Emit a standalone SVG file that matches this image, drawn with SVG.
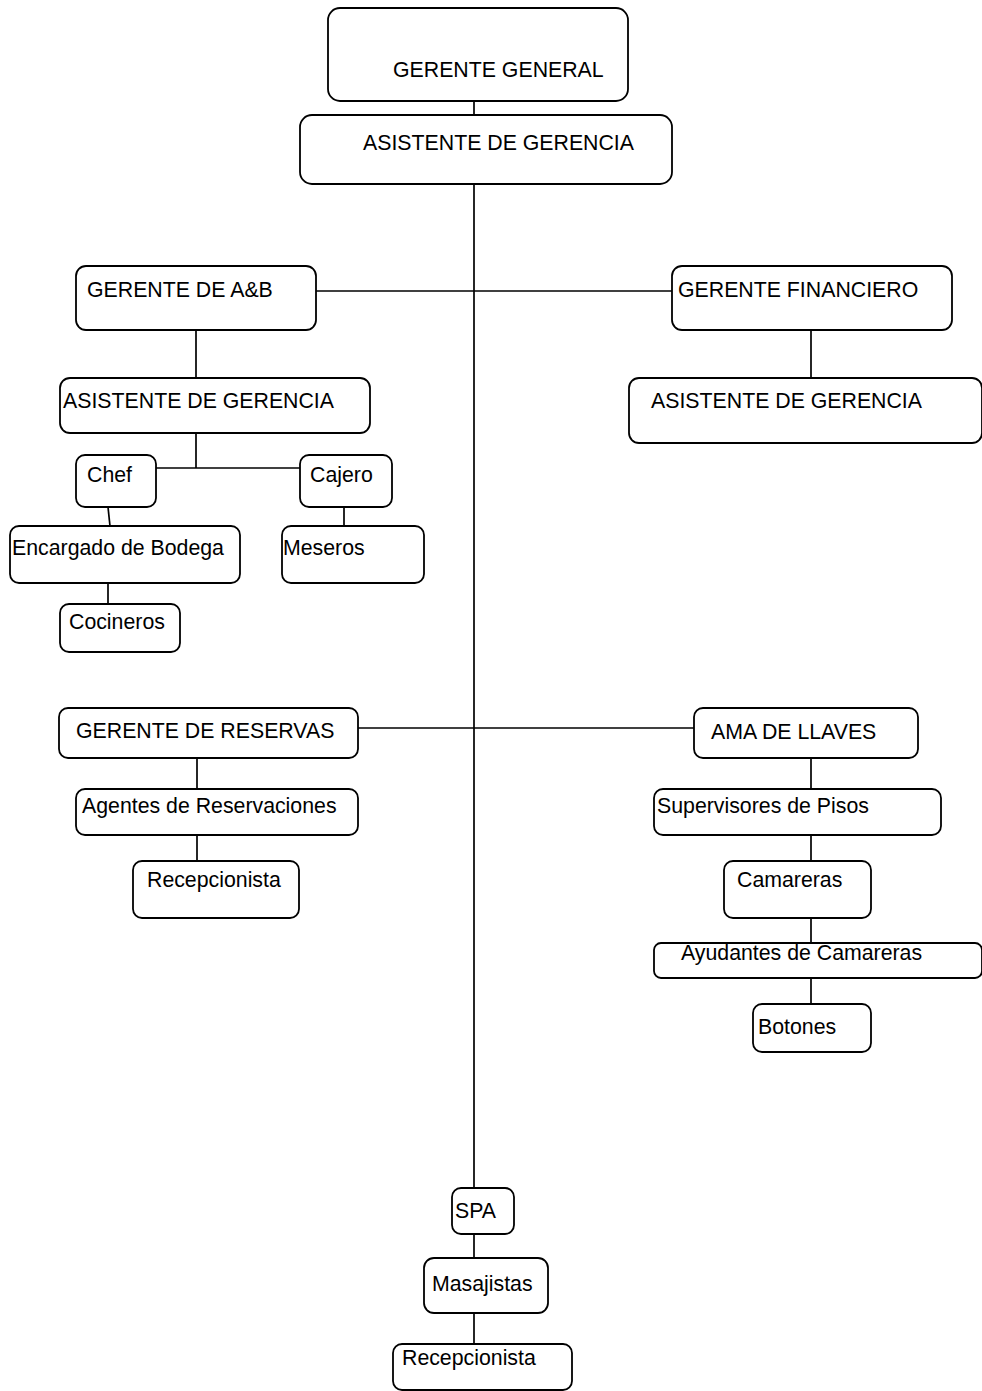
<svg xmlns="http://www.w3.org/2000/svg" width="982" height="1391" viewBox="0 0 982 1391">
<style>
.b{fill:#fff;stroke:#000;stroke-width:1.8}
.t{font-family:"Liberation Sans",Arial,sans-serif;font-size:21.3px;fill:#000}
.c line{stroke:#000;stroke-width:1.7}
</style>
<rect width="982" height="1391" fill="#fff"/>
<g class="c" id="connectors">
<line x1="474" y1="101" x2="474" y2="115"/>
<line x1="474" y1="184" x2="474" y2="1188"/>
<line x1="316" y1="291" x2="672" y2="291"/>
<line x1="358" y1="728" x2="694" y2="728"/>
<line x1="196" y1="330" x2="196" y2="378"/>
<line x1="196" y1="433" x2="196" y2="468"/>
<line x1="156" y1="468" x2="300" y2="468"/>
<line x1="108" y1="507" x2="110" y2="526"/>
<line x1="344" y1="507" x2="344" y2="526"/>
<line x1="108" y1="583" x2="108" y2="604"/>
<line x1="811" y1="330" x2="811" y2="378"/>
<line x1="197" y1="758" x2="197" y2="789"/>
<line x1="197" y1="835" x2="197" y2="861"/>
<line x1="811" y1="758" x2="811" y2="789"/>
<line x1="811" y1="835" x2="811" y2="861"/>
<line x1="811" y1="918" x2="811" y2="943"/>
<line x1="811" y1="978" x2="811" y2="1003"/>
<line x1="474" y1="1234" x2="474" y2="1258"/>
<line x1="474" y1="1313" x2="474" y2="1344"/>
</g>
<g id="gerente-general"><rect class="b" x="328" y="8" width="300" height="93" rx="12"/><text class="t" x="393" y="77">GERENTE GENERAL</text></g>
<g id="asistente-gerencia"><rect class="b" x="300" y="115" width="372" height="69" rx="12"/><text class="t" x="363" y="150">ASISTENTE DE GERENCIA</text></g>
<g id="gerente-ab"><rect class="b" x="76" y="266" width="240" height="64" rx="10"/><text class="t" x="87" y="297">GERENTE DE A&amp;B</text></g>
<g id="gerente-financiero"><rect class="b" x="672" y="266" width="280" height="64" rx="10"/><text class="t" x="678" y="297">GERENTE FINANCIERO</text></g>
<g id="asistente-ab"><rect class="b" x="60" y="378" width="310" height="55" rx="10"/><text class="t" x="63" y="408">ASISTENTE DE GERENCIA</text></g>
<g id="asistente-fin"><rect class="b" x="629" y="378" width="353" height="65" rx="10"/><text class="t" x="651" y="408">ASISTENTE DE GERENCIA</text></g>
<g id="chef"><rect class="b" x="76" y="455" width="80" height="52" rx="9"/><text class="t" x="87" y="482">Chef</text></g>
<g id="cajero"><rect class="b" x="300" y="455" width="92" height="52" rx="9"/><text class="t" x="310" y="482">Cajero</text></g>
<g id="encargado"><rect class="b" x="10" y="526" width="230" height="57" rx="9"/><text class="t" x="12" y="555">Encargado de Bodega</text></g>
<g id="meseros"><rect class="b" x="282" y="526" width="142" height="57" rx="9"/><text class="t" x="283" y="555">Meseros</text></g>
<g id="cocineros"><rect class="b" x="60" y="604" width="120" height="48" rx="9"/><text class="t" x="69" y="629">Cocineros</text></g>
<g id="gerente-reservas"><rect class="b" x="59" y="708" width="299" height="50" rx="9"/><text class="t" x="76" y="738">GERENTE DE RESERVAS</text></g>
<g id="ama-llaves"><rect class="b" x="694" y="708" width="224" height="50" rx="9"/><text class="t" x="711" y="739">AMA DE LLAVES</text></g>
<g id="agentes"><rect class="b" x="76" y="789" width="282" height="46" rx="9"/><text class="t" x="82" y="813">Agentes de Reservaciones</text></g>
<g id="supervisores"><rect class="b" x="654" y="789" width="287" height="46" rx="9"/><text class="t" x="657" y="813">Supervisores de Pisos</text></g>
<g id="recepcionista-res"><rect class="b" x="133" y="861" width="166" height="57" rx="9"/><text class="t" x="147" y="887">Recepcionista</text></g>
<g id="camareras"><rect class="b" x="724" y="861" width="147" height="57" rx="9"/><text class="t" x="737" y="887">Camareras</text></g>
<g id="ayudantes"><rect class="b" x="654" y="943" width="328" height="35" rx="7"/><text class="t" x="681" y="960">Ayudantes de Camareras</text></g>
<g id="botones"><rect class="b" x="753" y="1004" width="118" height="48" rx="9"/><text class="t" x="758" y="1034">Botones</text></g>
<g id="spa"><rect class="b" x="452" y="1188" width="62" height="46" rx="9"/><text class="t" x="455" y="1218">SPA</text></g>
<g id="masajistas"><rect class="b" x="424" y="1258" width="124" height="55" rx="10"/><text class="t" x="432" y="1291">Masajistas</text></g>
<g id="recepcionista-spa"><rect class="b" x="393" y="1344" width="179" height="46" rx="9"/><text class="t" x="402" y="1365">Recepcionista</text></g>
</svg>
